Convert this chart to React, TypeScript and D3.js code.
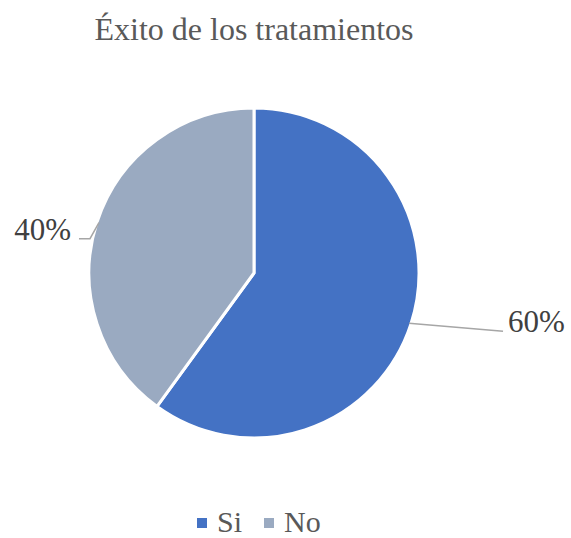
import * as d3 from "d3";

const categories = ["Si", "No"];
const values = [60, 40];
const colors = ["#4472C4", "#9AAAC1"];

const title = "Éxito de los tratamientos";

export default function App() {
  const width = 571;
  const height = 538;
  const cx = 254;
  const cy = 273;
  const radius = 165;

  const pie = d3.pie<number>().sort(null).value((d) => d);
  const arcs = pie(values);
  const arc = d3.arc<d3.PieArcDatum<number>>().innerRadius(0).outerRadius(radius);
  const edge = d3.arc<d3.PieArcDatum<number>>().innerRadius(radius - 2).outerRadius(radius - 2);
  const total = d3.sum(values);
  const fmt = (v: number) => `${Math.round((v / total) * 100)}%`;

  const serif = { fontFamily: "'Liberation Serif', 'Times New Roman', Times, serif" };

  return (
    <svg width={width} height={height} style={{ position: "absolute", left: 0, top: 0 }}>
      <rect width={width} height={height} fill="#fff" />
      <text x={254} y={40} textAnchor="middle" style={serif} fontSize={32} fill="#595959">
        {title}
      </text>
      <g transform={`translate(${cx},${cy})`}>
        {arcs.map((a, i) => (
          <path key={categories[i]} d={arc(a) ?? ""} fill={colors[i]} stroke="#fff" strokeWidth={3} strokeLinejoin="round" />
        ))}
      </g>
      {arcs.map((a, i) => {
        const [ex, ey] = edge.centroid(a);
        const sx = cx + ex;
        const sy = cy + ey;
        if (ex > 0) {
          const tx = sx + 94;
          const ty = sy + 8;
          return (
            <g key={`l-${i}`}>
              <polyline points={`${sx},${sy} ${tx},${ty}`} fill="none" stroke="#A6A6A6" strokeWidth={1.5} />
              <text x={tx + 5} y={ty + 1} style={serif} fontSize={31} fill="#404040">
                {fmt(values[i])}
              </text>
            </g>
          );
        }
        const bx = sx - 9;
        const by = sy + 16;
        return (
          <g key={`l-${i}`}>
            <polyline points={`${sx},${sy} ${bx},${by} ${bx - 11},${by}`} fill="none" stroke="#A6A6A6" strokeWidth={1.5} />
            <text x={bx - 19} y={by + 1} textAnchor="end" style={serif} fontSize={31} fill="#404040">
              {fmt(values[i])}
            </text>
          </g>
        );
      })}
      {categories.map((c, i) => {
        const x = i === 0 ? 197 : 264;
        return (
          <g key={`lg-${c}`}>
            <rect x={x} y={518} width={10} height={10} fill={colors[i]} />
            <text x={x + 20} y={532} style={serif} fontSize={30} fill="#595959">{c}</text>
          </g>
        );
      })}
    </svg>
  );
}
